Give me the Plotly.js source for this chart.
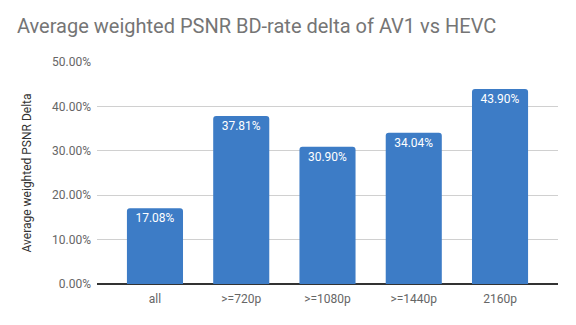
<!DOCTYPE html>
<html>
<head>
<meta charset="utf-8">
<script src="https://cdn.plot.ly/plotly-3.0.1.min.js"></script>
<style>
  html, body { margin: 0; padding: 0; background: #fff; }
  #chart { width: 576px; height: 325px; }
</style>
</head>
<body>
<div id="chart"></div>
<script>
const categories = ["all", ">=720p", ">=1080p", ">=1440p", "2160p"];
const deltaValues = [0.1708, 0.3781, 0.3090, 0.3404, 0.4390];
const tickValues = [0, 0.1, 0.2, 0.3, 0.4, 0.5];
const tickLabels = ["0.00%", "10.00%", "20.00%", "30.00%", "40.00%", "50.00%"];

const trace = {
  type: "bar",
  x: categories,
  y: deltaValues,
  text: deltaValues.map(v => (v * 100).toFixed(2) + "%"),
  textposition: "inside",
  insidetextanchor: "end",
  textangle: 0,
  textfont: { family: "Roboto, sans-serif", size: 12, color: "#ffffff" },
  marker: { color: "#3d7cc6", cornerradius: 3 },
  hoverinfo: "none",
  cliponaxis: false
};

const layout = {
  width: 576,
  height: 325,
  margin: { l: 97, r: 18, t: 62, b: 41, pad: 0 },
  paper_bgcolor: "#ffffff",
  plot_bgcolor: "#ffffff",
  bargap: 0.35,
  showlegend: false,
  font: { family: "Roboto, sans-serif", size: 12, color: "#666666" },
  title: {
    text: "Average weighted PSNR BD-rate delta of AV1 vs HEVC",
    font: { family: "Roboto, sans-serif", size: 20, color: "#757575" },
    x: 0, xref: "container", xanchor: "left",
    y: 1, yref: "container", yanchor: "top",
    pad: { l: 17, t: 19 }
  },
  xaxis: {
    type: "category",
    range: [-0.672, 4.672],
    showgrid: false,
    zeroline: false,
    showline: false,
    ticks: "",
    ticklabelstandoff: 6,
    tickfont: { family: "Roboto, sans-serif", size: 12, color: "#666666" },
    fixedrange: true
  },
  yaxis: {
    range: [0, 0.5],
    tickvals: tickValues,
    ticktext: tickLabels,
    showgrid: true,
    gridcolor: "#d0d0d0",
    gridwidth: 1,
    zeroline: true,
    zerolinecolor: "#333333",
    zerolinewidth: 1.3,
    showline: false,
    ticks: "",
    ticklabelstandoff: 5,
    tickfont: { family: "Roboto, sans-serif", size: 12, color: "#666666" },
    title: {
      text: "Average weighted PSNR Delta",
      font: { family: "Roboto, sans-serif", size: 12, color: "#333333" },
      standoff: 17
    },
    fixedrange: true
  }
};

Plotly.newPlot("chart", [trace], layout, { displayModeBar: false, staticPlot: true });
</script>
</body>
</html>
